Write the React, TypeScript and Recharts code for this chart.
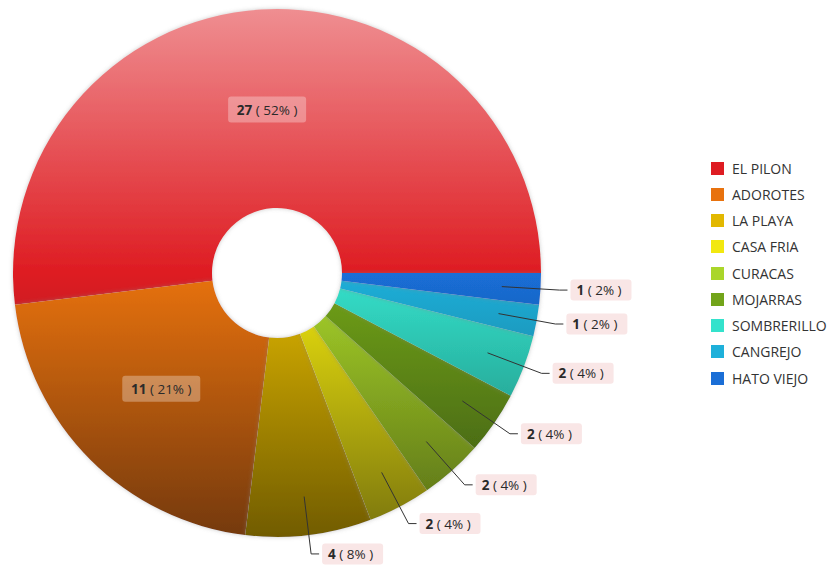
import React from 'react';
import { PieChart, Pie, Cell, Legend } from 'recharts';

const categories = ['EL PILON', 'ADOROTES', 'LA PLAYA', 'CASA FRIA', 'CURACAS', 'MOJARRAS', 'SOMBRERILLO', 'CANGREJO', 'HATO VIEJO'];
const counts = [27, 11, 4, 2, 2, 2, 2, 1, 1];
const colors = ['#de1c22', '#e8720e', '#e2b800', '#f2e810', '#aad62a', '#72a41a', '#34e2cc', '#1eb0da', '#1a6ed6'];

const data = categories.map((name, i) => ({ name, value: counts[i] }));

const CX = 277;
const CY = 273;
const R = 264;
const RIN = 65;
const FONT = '"Open Sans", "Noto Sans", sans-serif';

function mix(hex: string, target: number, t: number): string {
  const n = parseInt(hex.slice(1), 16);
  const c = [(n >> 16) & 255, (n >> 8) & 255, n & 255].map((v) => Math.round(v + (target - v) * t));
  return '#' + c.map((v) => v.toString(16).padStart(2, '0')).join('');
}

const RAD = Math.PI / 180;

const renderLabel = (props: any) => {
  const { cx, cy, midAngle, outerRadius, percent, value, index } = props;
  const pct = Math.round(percent * 100);
  const cos = Math.cos(-midAngle * RAD);
  const sin = Math.sin(-midAngle * RAD);
  if (percent > 0.15) {
    const r = outerRadius * 0.62;
    const x = cx + r * cos;
    const y = cy + r * sin;
    return (
      <g key={'l' + index}>
        <rect x={x - 39} y={y - 13} width={78} height={26} rx={3} fill="#ffffff" fillOpacity={0.3} />
        <text x={x} y={y} textAnchor="middle" dominantBaseline="central" fontFamily={FONT} fontSize={13.5} fill="#2a2a2a" style={{ whiteSpace: 'pre' }}>
          <tspan fontWeight="bold">{value}</tspan>
          <tspan>{` ( ${pct}% )`}</tspan>
        </text>
      </g>
    );
  }
  const r1 = outerRadius * 0.853;
  const r2 = outerRadius + 19;
  const x1 = cx + r1 * cos;
  const y1 = cy + r1 * sin;
  const x2 = cx + r2 * cos;
  const y2 = cy + r2 * sin;
  const x3 = x2 + 8;
  return (
    <g key={'l' + index}>
      <polyline points={`${x1},${y1} ${x2},${y2} ${x3},${y2}`} fill="none" stroke="#333" strokeWidth={1} />
      <rect x={x3 + 3} y={y2 - 10.5} width={61} height={21} rx={3} fill="#f9e6e6" />
      <text x={x3 + 9} y={y2} textAnchor="start" dominantBaseline="central" fontFamily={FONT} fontSize={13.5} fill="#2a2a2a" style={{ whiteSpace: 'pre' }}>
        <tspan fontWeight="bold">{value}</tspan>
        <tspan>{` ( ${pct}% )`}</tspan>
      </text>
    </g>
  );
};

const renderLegend = () => (
  <div style={{ fontFamily: FONT, fontSize: 14, color: '#333' }}>
    {categories.map((name, i) => (
      <div key={name} style={{ display: 'flex', alignItems: 'center', height: 26.25 }}>
        <span style={{ display: 'inline-block', width: 13, height: 13, background: colors[i], marginRight: 8 }} />
        <span>{name}</span>
      </div>
    ))}
  </div>
);

export default function App() {
  return (
    <div style={{ position: 'fixed', left: 0, top: 0, width: 835, height: 567, background: '#fff' }}>
      <PieChart width={835} height={567} margin={{ top: 0, right: 0, bottom: 0, left: 0 }}>
        <defs>
          {colors.map((c, i) => (
            <linearGradient key={i} id={'g' + i} gradientUnits="userSpaceOnUse" x1={0} y1={CY - R} x2={0} y2={CY + R}>
              <stop offset="0" stopColor={mix(c, 255, 0.5)} />
              <stop offset="0.5" stopColor={c} />
              <stop offset="1" stopColor={mix(c, 0, 0.5)} />
            </linearGradient>
          ))}
          <filter id="glow" x="-10%" y="-10%" width="120%" height="120%">
            <feDropShadow dx="0" dy="0" stdDeviation="2" floodColor="#888" floodOpacity="0.45" />
          </filter>
        </defs>
        <Pie
          data={data}
          dataKey="value"
          nameKey="name"
          cx={CX}
          cy={CY}
          innerRadius={RIN}
          outerRadius={R}
          startAngle={0}
          endAngle={360}
          stroke="none"
          label={renderLabel}
          labelLine={false}
          isAnimationActive={false}
          style={{ filter: 'url(#glow)' }}
        >
          {data.map((d, i) => (
            <Cell key={d.name} fill={`url(#g${i})`} stroke="none" />
          ))}
        </Pie>
        <Legend
          content={renderLegend}
          layout="vertical"
          align="right"
          verticalAlign="top"
          wrapperStyle={{ left: 711, top: 155, width: 124 }}
        />
      </PieChart>
    </div>
  );
}
